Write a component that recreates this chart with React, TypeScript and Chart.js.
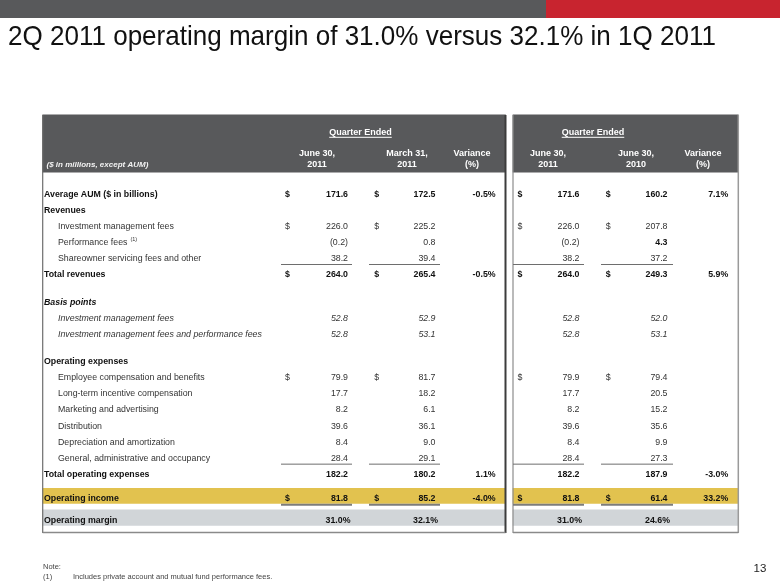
import React, { useEffect, useRef } from "react";
import { Chart, registerables } from "chart.js";

Chart.register(...registerables);

// ---------------- DATA ----------------
const TITLE = "2Q 2011 operating margin of 31.0% versus 32.1% in 1Q 2011";
const PANEL_TITLES = ["Quarter Ended", "Quarter Ended"];
const COLUMN_HEADERS: [string, string][] = [
  ["June 30,", "2011"],
  ["March 31,", "2011"],
  ["Variance", "(%)"],
  ["June 30,", "2011"],
  ["June 30,", "2010"],
  ["Variance", "(%)"],
];
const UNITS_NOTE = "($ in millions, except AUM)";

const ROW_LABELS = [
  "Average AUM ($ in billions)",
  "Revenues",
  "Investment management fees",
  "Performance fees",
  "Shareowner servicing fees and other",
  "Total revenues",
  "Basis points",
  "Investment management fees",
  "Investment management fees and performance fees",
  "Operating expenses",
  "Employee compensation and benefits",
  "Long-term incentive compensation",
  "Marketing and advertising",
  "Distribution",
  "Depreciation and amortization",
  "General, administrative and occupancy",
  "Total operating expenses",
  "Operating income",
  "Operating margin",
];

type V = number | null;
const JUN_2011_SEQ: V[] = [171.6, null, 226.0, -0.2, 38.2, 264.0, null, 52.8, 52.8, null, 79.9, 17.7, 8.2, 39.6, 8.4, 28.4, 182.2, 81.8, 31.0];
const MAR_2011: V[] = [172.5, null, 225.2, 0.8, 39.4, 265.4, null, 52.9, 53.1, null, 81.7, 18.2, 6.1, 36.1, 9.0, 29.1, 180.2, 85.2, 32.1];
const VARIANCE_SEQ: V[] = [-0.5, null, null, null, null, -0.5, null, null, null, null, null, null, null, null, null, null, 1.1, -4.0, null];
const JUN_2011_YOY: V[] = [171.6, null, 226.0, -0.2, 38.2, 264.0, null, 52.8, 52.8, null, 79.9, 17.7, 8.2, 39.6, 8.4, 28.4, 182.2, 81.8, 31.0];
const JUN_2010: V[] = [160.2, null, 207.8, 4.3, 37.2, 249.3, null, 52.0, 53.1, null, 79.4, 20.5, 15.2, 35.6, 9.9, 27.3, 187.9, 61.4, 24.6];
const VARIANCE_YOY: V[] = [7.1, null, null, null, null, 5.9, null, null, null, null, null, null, null, null, null, null, -3.0, 33.2, null];

const NOTE_TITLE = "Note:";
const NOTE_MARK = "(1)";
const NOTE_TEXT = "Includes private account and mutual fund performance fees.";
const PAGE_NUMBER = "13";

// ---------------- STYLE / LAYOUT CONFIG ----------------
const SERIES = [JUN_2011_SEQ, MAR_2011, VARIANCE_SEQ, JUN_2011_YOY, JUN_2010, VARIANCE_YOY];
const IS_VARIANCE = [false, false, true, false, false, true];
// row kinds: b = bold label, s = section, si = italic section, i = item, ii = italic item
const ROW_KIND = ["b", "s", "i", "i", "i", "b", "si", "ii", "ii", "s", "i", "i", "i", "i", "i", "i", "b", "b", "b"];
const DOLLAR_ROWS = new Set([0, 2, 5, 10, 17]);
const BOLD_VALUE_ROWS = new Set([0, 5, 16, 17, 18]);
const BOLD_CELLS = new Set(["3-4"]);
const PERCENT_ROWS = new Set([18]);
const UNDERLINE_ROWS = new Set([4, 15]);
const DOUBLE_UNDERLINE_ROWS = new Set([17]);
const SUPERSCRIPTS: Record<number, string> = { 3: "(1)" };
const EXTRA_GAP: Record<number, number> = { 6: 11, 9: 11, 17: 8, 18: 6 };
const ROW_START = 194.2;
const ROW_STEP = 16.15;

const PANELS = [
  { x0: 42.7, x1: 505.5, titleX: 360.5 },
  { x0: 513, x1: 738.3, titleX: 593 },
];
const COLS = [
  { dollar: 287.5, right: 348, head: 317 },
  { dollar: 376.7, right: 435.5, head: 407 },
  { dollar: null, right: 495.6, head: 472 },
  { dollar: 520, right: 579.5, head: 548 },
  { dollar: 608.3, right: 667.5, head: 636 },
  { dollar: null, right: 728.2, head: 703 },
];
const UNDERLINE_SEGS = [
  [281, 352],
  [369, 440],
  [513, 584],
  [601, 673],
];

const FONT = '"Liberation Sans", Arial, Helvetica, sans-serif';
const C_DARK = "#58595B";
const C_RED = "#C8242F";
const C_YELLOW = "#E2C24F";
const C_MARGIN = "#D1D5D8";

function rowYs(): number[] {
  const ys: number[] = [];
  let y = ROW_START;
  ROW_LABELS.forEach((_, i) => {
    if (i > 0) y += ROW_STEP + (EXTRA_GAP[i] || 0);
    ys.push(y);
  });
  return ys;
}
const ROW_Y = rowYs();

function fmt(v: number, row: number, col: number): string {
  if (IS_VARIANCE[col] || PERCENT_ROWS.has(row)) return v.toFixed(1) + "%";
  if (v < 0) return "(" + Math.abs(v).toFixed(1) + ")";
  return v.toFixed(1);
}

const tablePlugin = {
  id: "tablePlugin",
  beforeDatasetsDraw(chart: any) {
    const ctx: CanvasRenderingContext2D = chart.ctx;
    const sx = chart.scales.x;
    const sy = chart.scales.y;
    const px = (v: number) => sx.getPixelForValue(v);
    const py = (v: number) => sy.getPixelForValue(v);
    ctx.save();
    // top banner
    ctx.fillStyle = C_DARK;
    ctx.fillRect(px(0), py(0), px(546) - px(0), py(18) - py(0));
    ctx.fillStyle = C_RED;
    ctx.fillRect(px(546), py(0), px(780) - px(546), py(18) - py(0));
    ctx.restore();
  },
  afterDatasetsDraw(chart: any) {
    const ctx: CanvasRenderingContext2D = chart.ctx;
    const sx = chart.scales.x;
    const sy = chart.scales.y;
    const px = (v: number) => sx.getPixelForValue(v);
    const py = (v: number) => sy.getPixelForValue(v);

    const text = (
      s: string,
      x: number,
      y: number,
      size: number,
      opts: { weight?: string; style?: string; color?: string; align?: CanvasTextAlign; baseline?: CanvasTextBaseline } = {}
    ) => {
      ctx.font = `${opts.style || "normal"} ${opts.weight || "normal"} ${size}px ${FONT}`;
      ctx.fillStyle = opts.color || "#333";
      ctx.textAlign = opts.align || "left";
      ctx.textBaseline = opts.baseline || "middle";
      ctx.fillText(s, px(x), py(y));
      return ctx.measureText(s).width;
    };
    const hline = (x0: number, x1: number, y: number, w: number, color: string) => {
      ctx.strokeStyle = color;
      ctx.lineWidth = w;
      ctx.beginPath();
      ctx.moveTo(px(x0), py(y));
      ctx.lineTo(px(x1), py(y));
      ctx.stroke();
    };
    const vline = (x: number, y0: number, y1: number, w: number, color: string) => {
      ctx.strokeStyle = color;
      ctx.lineWidth = w;
      ctx.beginPath();
      ctx.moveTo(px(x), py(y0));
      ctx.lineTo(px(x), py(y1));
      ctx.stroke();
    };

    ctx.save();

    // Title (condensed to slide width)
    ctx.font = `normal normal 28px ${FONT}`;
    const tw = ctx.measureText(TITLE).width;
    ctx.save();
    ctx.translate(px(8), py(45));
    ctx.scale(708 / tw, 1);
    ctx.fillStyle = "#111";
    ctx.textAlign = "left";
    ctx.textBaseline = "alphabetic";
    ctx.fillText(TITLE, 0, 0);
    ctx.restore();

    // Panel borders
    vline(PANELS[0].x0, 115, 533, 1.2, "#6d6d6d");
    vline(PANELS[0].x1, 115, 533, 2, "#3c3c3c");
    hline(PANELS[0].x0, PANELS[0].x1, 532.5, 1.5, "#8a8a8a");
    vline(PANELS[1].x0, 115, 533, 1.2, "#8c8c8c");
    vline(PANELS[1].x1, 115, 533, 1.5, "#9a9a9a");
    hline(PANELS[1].x0, PANELS[1].x1, 532.5, 1.5, "#8a8a8a");

    // Header texts
    PANELS.forEach((p, k) => {
      const w = text(PANEL_TITLES[k], p.titleX, 132.7, 9, { weight: "bold", color: "#fff", align: "center" });
      hline(p.titleX - w / 2, p.titleX + w / 2, 137.3, 1, "#fff");
    });
    COLS.forEach((c, k) => {
      text(COLUMN_HEADERS[k][0], c.head, 153.3, 9, { weight: "bold", color: "#fff", align: "center" });
      text(COLUMN_HEADERS[k][1], c.head, 165, 9, { weight: "bold", color: "#fff", align: "center" });
    });
    text(UNITS_NOTE, 46.5, 165, 8, { weight: "bold", style: "italic", color: "#f2f2f2" });

    // Rows
    ROW_LABELS.forEach((label, r) => {
      const y = ROW_Y[r];
      const kind = ROW_KIND[r];
      const indent = kind === "i" || kind === "ii";
      const bold = kind === "b" || kind === "s" || kind === "si";
      const italic = kind === "si" || kind === "ii";
      const lw = text(label, indent ? 58 : 44, y, 8.8, {
        weight: bold ? "bold" : "normal",
        style: italic ? "italic" : "normal",
        color: bold ? "#111" : "#333",
      });
      if (SUPERSCRIPTS[r]) {
        text(SUPERSCRIPTS[r], (indent ? 58 : 44) + lw + 3, y - 3.5, 5.5, { color: "#333" });
      }
      SERIES.forEach((series, c) => {
        const v = series[r];
        if (v === null || v === undefined) return;
        const isBold = BOLD_VALUE_ROWS.has(r) || BOLD_CELLS.has(`${r}-${c}`);
        const isPct = IS_VARIANCE[c] || PERCENT_ROWS.has(r);
        const col = COLS[c];
        const xr = col.right + (isPct && !IS_VARIANCE[c] ? 2.5 : 0);
        text(fmt(v, r, c), xr, y, 8.8, {
          weight: isBold ? "bold" : "normal",
          style: italic ? "italic" : "normal",
          color: isBold ? "#111" : "#333",
          align: "right",
        });
        if (DOLLAR_ROWS.has(r) && col.dollar !== null) {
          text("$", col.dollar, y, 8.8, {
            weight: isBold ? "bold" : "normal",
            color: isBold ? "#111" : "#333",
            align: "center",
          });
        }
      });
      if (UNDERLINE_ROWS.has(r)) {
        UNDERLINE_SEGS.forEach(([a, b]) => hline(a, b, y + 5.7, 1, "#6e6e6e"));
      }
      if (DOUBLE_UNDERLINE_ROWS.has(r)) {
        UNDERLINE_SEGS.forEach(([a, b]) => hline(a, b, y + 6, 2, "#7c7c7c"));
      }
    });

    // Footnote
    text(NOTE_TITLE, 43, 567, 7.5, { color: "#444" });
    text(NOTE_MARK, 43, 576.5, 7.5, { color: "#444" });
    text(NOTE_TEXT, 73, 576.5, 7.5, { color: "#444" });
    text(PAGE_NUMBER, 760, 569, 11.5, { color: "#222", align: "center" });

    ctx.restore();
  },
};

export default function App() {
  const canvasRef = useRef<HTMLCanvasElement | null>(null);

  useEffect(() => {
    const canvas = canvasRef.current;
    if (!canvas) return;
    const headerY = 143.6;
    const chart = new Chart(canvas, {
      type: "bar",
      data: {
        datasets: [
          {
            label: "Header",
            data: PANELS.map((p) => ({ x: [p.x0, p.x1], y: headerY })) as any,
            backgroundColor: C_DARK,
            barThickness: 57.3,
            grouped: false,
            borderWidth: 0,
          } as any,
          {
            label: "Operating income",
            data: PANELS.map((p) => ({ x: [p.x0, p.x1], y: ROW_Y[17] - 2.8 })) as any,
            backgroundColor: C_YELLOW,
            barThickness: 15,
            grouped: false,
            borderWidth: 0,
          } as any,
          {
            label: "Operating margin",
            data: PANELS.map((p) => ({ x: [p.x0, p.x1], y: ROW_Y[18] - 3.2 })) as any,
            backgroundColor: C_MARGIN,
            barThickness: 15.5,
            grouped: false,
            borderWidth: 0,
          } as any,
        ],
      },
      options: {
        indexAxis: "y",
        animation: false,
        responsive: false,
        maintainAspectRatio: false,
        devicePixelRatio: 1,
        layout: { padding: 0 },
        events: [],
        plugins: {
          legend: { display: false },
          tooltip: { enabled: false },
          title: { display: false },
        },
        scales: {
          x: { type: "linear", min: 0, max: 780, display: false, offset: false },
          y: { type: "linear", min: 0, max: 585, reverse: true, display: false, offset: false },
        },
      } as any,
      plugins: [tablePlugin],
    });
    return () => chart.destroy();
  }, []);

  return (
    <div style={{ position: "absolute", left: 0, top: 0, width: 780, height: 585, background: "#fff" }}>
      <canvas ref={canvasRef} width={780} height={585} style={{ display: "block", width: 780, height: 585 }} />
    </div>
  );
}
